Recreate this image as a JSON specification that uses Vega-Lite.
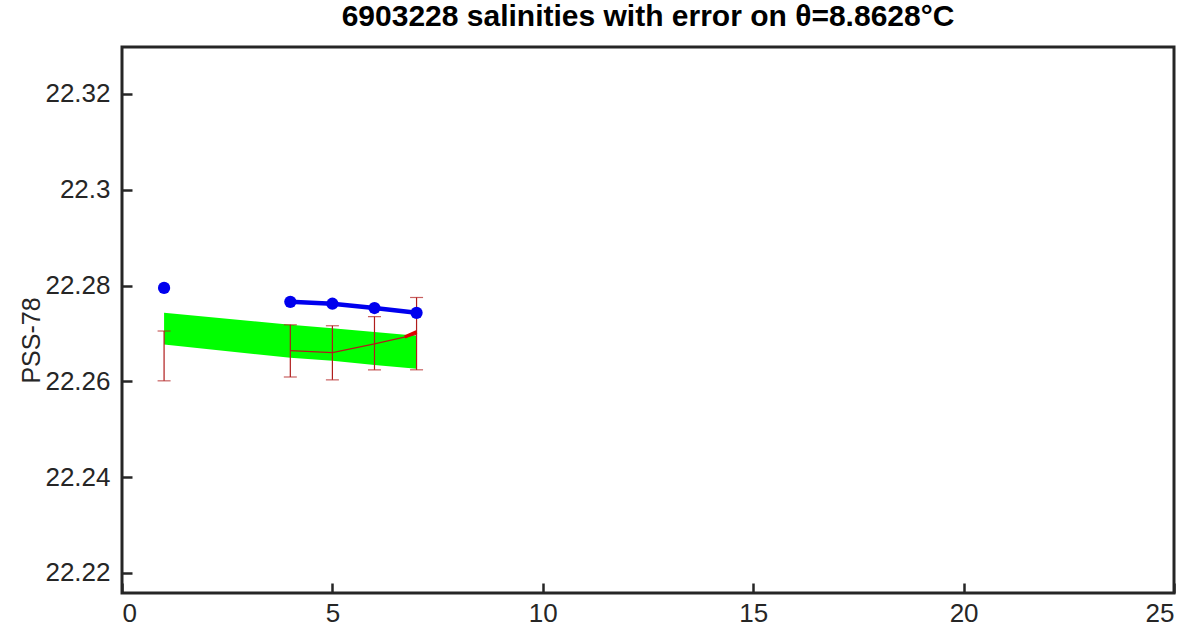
{
  "$schema": "https://vega.github.io/schema/vega-lite/v6.json",
  "width": 1052,
  "height": 546,
  "autosize": {"type": "none"},
  "padding": {"left": 122, "top": 47, "right": 24, "bottom": 45},
  "background": "white",
  "title": {
    "text": "6903228 salinities with error on θ=8.8628°C",
    "font": "Liberation Sans",
    "fontSize": 30,
    "fontWeight": "bold",
    "color": "#000000",
    "offset": 15,
    "anchor": "middle"
  },
  "config": {
    "view": {"stroke": "#262626", "strokeWidth": 3},
    "axis": {
      "labelFont": "Liberation Sans",
      "labelFontSize": 26,
      "labelColor": "#262626",
      "tickColor": "#262626",
      "tickWidth": 2.5,
      "tickSize": 10,
      "offset": -10,
      "grid": false,
      "domain": false,
      "titleFont": "Liberation Sans",
      "titleFontWeight": "normal",
      "titleColor": "#262626",
      "titleFontSize": 25
    }
  },
  "resolve": {"axis": {"x": "independent", "y": "independent"}},
  "layer": [
    {
      "data": {"values": [
        {"x": 1, "lo": 22.2677, "hi": 22.2743},
        {"x": 4, "lo": 22.2649, "hi": 22.2718},
        {"x": 5, "lo": 22.2643, "hi": 22.2711},
        {"x": 6, "lo": 22.2634, "hi": 22.2703},
        {"x": 7, "lo": 22.2626, "hi": 22.2695}
      ]},
      "mark": {"type": "area", "color": "#00ff00", "opacity": 1},
      "encoding": {
        "x": {"field": "x", "type": "quantitative", "scale": {"domain": [0, 25], "nice": false, "zero": false},
              "axis": {"orient": "bottom", "values": [0, 5, 10, 15, 20, 25], "labelPadding": 7, "title": null}},
        "y": {"field": "lo", "type": "quantitative", "scale": {"domain": [22.2158, 22.3298], "nice": false, "zero": false},
              "axis": {"orient": "left", "values": [22.22, 22.24, 22.26, 22.28, 22.3, 22.32], "format": "~g", "labelPadding": 12, "title": "PSS-78", "titlePadding": 0, "titleY": 293}},
        "y2": {"field": "hi"}
      }
    },
    {
      "data": {"values": [
        {"x": 1, "lo": 22.2601, "hi": 22.2705},
        {"x": 4, "lo": 22.2609, "hi": 22.2718},
        {"x": 5, "lo": 22.2603, "hi": 22.2716},
        {"x": 6, "lo": 22.2624, "hi": 22.2735},
        {"x": 7, "lo": 22.2624, "hi": 22.2775}
      ]},
      "layer": [
        {
          "mark": {"type": "rule", "color": "#b01c1c", "strokeWidth": 1.2},
          "encoding": {
            "x": {"field": "x", "type": "quantitative",
                  "axis": {"orient": "top", "values": [0, 5, 10, 15, 20, 25], "labels": false, "title": null}},
            "y": {"field": "lo", "type": "quantitative",
                  "axis": {"orient": "right", "values": [22.22, 22.24, 22.26, 22.28, 22.3, 22.32], "labels": false, "title": null}},
            "y2": {"field": "hi"}
          }
        },
        {
          "mark": {"type": "tick", "orient": "horizontal", "color": "#b01c1c", "size": 13, "thickness": 1.2},
          "encoding": {
            "x": {"field": "x", "type": "quantitative", "axis": null},
            "y": {"field": "lo", "type": "quantitative", "axis": null}
          }
        },
        {
          "mark": {"type": "tick", "orient": "horizontal", "color": "#b01c1c", "size": 13, "thickness": 1.2},
          "encoding": {
            "x": {"field": "x", "type": "quantitative", "axis": null},
            "y": {"field": "hi", "type": "quantitative", "axis": null}
          }
        }
      ]
    },
    {
      "data": {"values": [
        {"x": 4, "s": 22.2664},
        {"x": 5, "s": 22.2660},
        {"x": 6, "s": 22.2678},
        {"x": 7, "s": 22.2698}
      ]},
      "mark": {"type": "line", "color": "#b01c1c", "strokeWidth": 1.3},
      "encoding": {
        "x": {"field": "x", "type": "quantitative", "axis": null},
        "y": {"field": "s", "type": "quantitative", "axis": null}
      }
    },
    {
      "data": {"values": [
        {"x": 6.72, "s": 22.26925},
        {"x": 7.0, "s": 22.2703}
      ]},
      "mark": {"type": "line", "color": "#e00000", "strokeWidth": 3.5},
      "encoding": {
        "x": {"field": "x", "type": "quantitative", "axis": null},
        "y": {"field": "s", "type": "quantitative", "axis": null}
      }
    },
    {
      "data": {"values": [
        {"x": 4, "s": 22.2766},
        {"x": 5, "s": 22.2762},
        {"x": 6, "s": 22.2753},
        {"x": 7, "s": 22.2743}
      ]},
      "mark": {"type": "line", "color": "#0000ee", "strokeWidth": 4.5},
      "encoding": {
        "x": {"field": "x", "type": "quantitative", "axis": null},
        "y": {"field": "s", "type": "quantitative", "axis": null}
      }
    },
    {
      "data": {"values": [
        {"x": 1, "s": 22.2795},
        {"x": 4, "s": 22.2766},
        {"x": 5, "s": 22.2762},
        {"x": 6, "s": 22.2753},
        {"x": 7, "s": 22.2743}
      ]},
      "mark": {"type": "circle", "color": "#0000ee", "opacity": 1, "size": 150},
      "encoding": {
        "x": {"field": "x", "type": "quantitative", "axis": null},
        "y": {"field": "s", "type": "quantitative", "axis": null}
      }
    }
  ]
}
